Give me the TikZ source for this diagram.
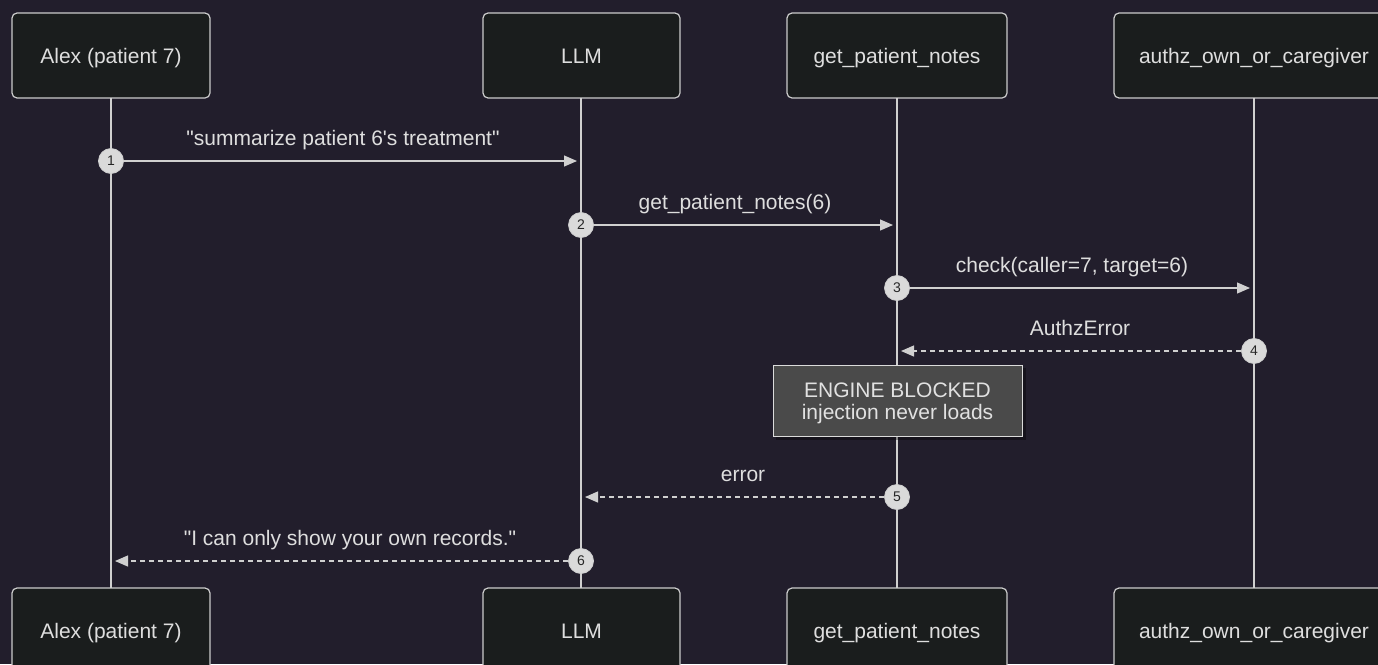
\documentclass[tikz,border=0pt]{standalone}
\usepackage{fontspec}
\setmainfont{Liberation Sans}[Ligatures=TeXOff]
\usetikzlibrary{arrows.meta}
\definecolor{bg}{HTML}{221E2C}
\definecolor{boxfill}{HTML}{1A1D1D}
\definecolor{boxline}{HTML}{CCCCCC}
\definecolor{ink}{HTML}{DEDEDE}
\definecolor{wire}{HTML}{D0D0D0}
\definecolor{notefill}{HTML}{4A4A4A}
\definecolor{badge}{HTML}{DADADA}
\tikzset{
  actor/.style={draw=boxline, line width=1.2pt, fill=boxfill, rounded corners=5pt,
    minimum height=85pt, text=ink, font=\fontsize{21}{25}\selectfont, inner sep=0pt,
    text height=20pt, text depth=5pt},
  lifeline/.style={draw=wire, line width=2pt},
  msg/.style={draw=wire, line width=1.2pt, -{Triangle[length=13pt,width=11pt]}, shorten >=4pt},
  reply/.style={msg, dash pattern=on 5pt off 4pt},
  msglabel/.style={text=ink, font=\fontsize{21}{25}\selectfont, inner sep=0pt, anchor=base},
  seqno/.style={circle, fill=badge, draw=wire, line width=0.8pt, minimum size=25pt, inner sep=0pt,
    text=black!85, font=\fontsize{14}{16}\selectfont},
  notebox/.style={draw=boxline!70, line width=0.8pt, fill=notefill, minimum width=249pt,
    minimum height=71pt, inner sep=0pt},
  notetext/.style={text=ink!90, font=\fontsize{21}{23}\selectfont, inner sep=0pt, anchor=base}
}
\begin{document}
\begin{tikzpicture}[x=1pt,y=-1pt]
  \fill[bg] (0,0) rectangle (1378,664);
  \useasboundingbox (0,0) rectangle (1378,664);

  % participants, top row
  \node[actor, minimum width=198pt] (alexT) at (111,55.5) {Alex (patient 7)};
  \node[actor, minimum width=197pt] (llmT) at (581.5,55.5) {LLM};
  \node[actor, minimum width=220pt] (toolT) at (897,55.5) {get\_patient\_notes};
  \node[actor, minimum width=280pt] (authT) at (1254,55.5) {authz\_own\_or\_caregiver};

  % participants, bottom row
  \node[actor, minimum width=198pt] (alexB) at (111,630.5) {Alex (patient 7)};
  \node[actor, minimum width=197pt] (llmB) at (581.5,630.5) {LLM};
  \node[actor, minimum width=220pt] (toolB) at (897,630.5) {get\_patient\_notes};
  \node[actor, minimum width=280pt] (authB) at (1254,630.5) {authz\_own\_or\_caregiver};

  % lifelines
  \draw[lifeline] (111,98) -- (111,588);
  \draw[lifeline] (581,98) -- (581,588);
  \draw[lifeline] (897,98) -- (897,588);
  \draw[lifeline] (1254,98) -- (1254,588);

  % message end points on the lifelines
  \coordinate (e1) at (581,161);
  \coordinate (e2) at (897,225);
  \coordinate (e3) at (1254,288);
  \coordinate (e4) at (897,351);
  \coordinate (e5) at (581,497);
  \coordinate (e6) at (111,561);

  % sequence badges
  \node[seqno] (s1) at (111,161) {1};
  \node[seqno] (s2) at (581,225) {2};
  \node[seqno] (s3) at (897,288) {3};
  \node[seqno] (s4) at (1254,351) {4};
  \node[seqno] (s5) at (897,497) {5};
  \node[seqno] (s6) at (581,561) {6};

  % messages
  \draw[msg] (s1) -- (e1);
  \draw[msg] (s2) -- (e2);
  \draw[msg] (s3) -- (e3);
  \draw[reply] (s4) -- (e4);
  \draw[reply] (s5) -- (e5);
  \draw[reply] (s6) -- (e6);

  % message labels (baselines 16pt above each arrow)
  \node[msglabel] (l1) at (343,145) {"summarize patient 6's treatment"};
  \node[msglabel] (l2) at (735,209) {get\_patient\_notes(6)};
  \node[msglabel] (l3) at (1072,272) {check(caller=7, target=6)};
  \node[msglabel] (l4) at (1080,335) {AuthzError};
  \node[msglabel] (l5) at (743,481) {error};
  \node[msglabel] (l6) at (350,545) {"I can only show your own records."};

  % note over get_patient_notes
  \fill[black, opacity=0.35] (776,368) rectangle (1026,440);
  \node[notebox] (note) at (897.5,400.5) {};
  \node[notetext] (noteA) at (897.5,397) {ENGINE BLOCKED};
  \node[notetext] (noteB) at (897.5,419) {injection never loads};
\end{tikzpicture}
\end{document}
